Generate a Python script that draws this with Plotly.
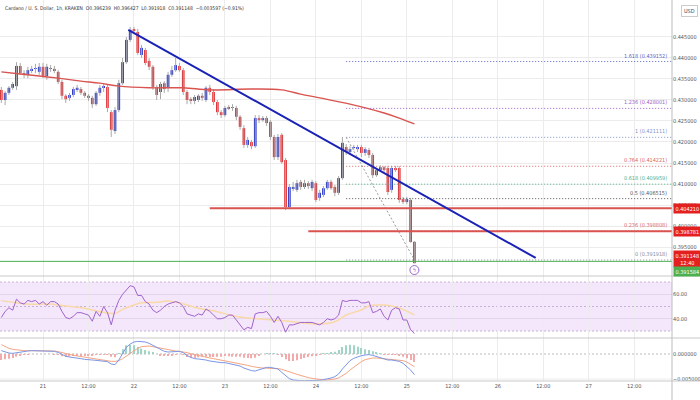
import pandas as pd
import plotly.graph_objects as go

# ---------------- data ----------------
start_time = "2022-08-20 13:00"

opens = [
 .4324, .4300, .4317, .4329, .4333, .4381, .4364, .4360, .4371, .4374,
 .4367, .4379, .4357, .4376, .4374, .4367, .4343, .4310, .4305, .4312,
 .4326, .4326, .4317, .4310, .4305, .4290, .4317, .4329, .4331, .4271,
 .4226, .4276, .4340, .4390, .4443, .4469, .4462, .4407, .4419, .4393,
 .4379, .4331, .4319, .4340, .4329, .4360, .4371, .4381, .4371, .4319,
 .4300, .4298, .4300, .4310, .4300, .4329, .4319, .4295, .4271, .4264,
 .4281, .4283, .4281, .4260, .4233, .4193, .4200, .4190, .4257, .4252,
 .4257, .4248, .4212, .4164, .4217, .4157, .4045, .4088, .4086, .4105,
 .4093, .4102, .4090, .4102, .4067, .4074, .4090, .4105, .4093, .4079,
 .4114, .4188, .4176, .4186, .4183, .4188, .4174, .4181, .4169, .4121,
 .4133, .4140, .4138, .4086, .4138, .4138, .4064, .4057, .4062, .396239]
highs = [
 .4331, .4321, .4333, .4343, .4390, .4388, .4371, .4379, .4381, .4386,
 .4388, .4388, .4386, .4383, .4381, .4371, .4348, .4314, .4317, .4331,
 .4336, .4331, .4321, .4314, .4310, .4321, .4336, .4338, .4336, .4276,
 .4283, .4348, .4400, .4450, .4474, .4474, .4469, .4431, .4424, .4400,
 .4383, .4336, .4343, .4345, .4367, .4381, .4400, .4388, .4376, .4324,
 .4307, .4312, .4314, .4317, .4333, .4336, .4326, .4300, .4276, .4286,
 .4288, .4290, .4286, .4264, .4240, .4212, .4205, .4264, .4264, .4262,
 .4262, .4252, .4217, .4219, .4221, .4162, .4100, .4105, .4110, .4110,
 .4110, .4107, .4110, .4107, .4086, .4095, .4110, .4110, .4098, .4119,
 .4212, .4195, .4190, .4193, .4193, .4193, .4188, .4186, .4174, .4138,
 .4145, .4143, .4143, .4143, .4143, .4143, .4069, .4069, .4067, .396427]
lows = [
 .4293, .4288, .4312, .4324, .4324, .4360, .4352, .4352, .4364, .4364,
 .4360, .4352, .4348, .4367, .4364, .4338, .4302, .4293, .4298, .4307,
 .4319, .4312, .4305, .4298, .4281, .4286, .4310, .4319, .4271, .4212,
 .4219, .4271, .4336, .4386, .4438, .4460, .4407, .4400, .4383, .4371,
 .4324, .4300, .4302, .4317, .4319, .4355, .4367, .4367, .4312, .4290,
 .4290, .4290, .4295, .4298, .4295, .4312, .4288, .4264, .4257, .4260,
 .4276, .4274, .4252, .4229, .4186, .4186, .4183, .4186, .4245, .4248,
 .4238, .4205, .4157, .4157, .4148, .4038, .4040, .4083, .4081, .4086,
 .4088, .4088, .4083, .4057, .4060, .4069, .4086, .4086, .4071, .4074,
 .4110, .4169, .4171, .4181, .4176, .4164, .4167, .4162, .4114, .4117,
 .4129, .4129, .4074, .4079, .4129, .4055, .4052, .4052, .3960, .391148]
closes = [
 .4300, .4317, .4329, .4338, .4381, .4364, .4360, .4371, .4374, .4376,
 .4379, .4357, .4379, .4374, .4371, .4343, .4310, .4302, .4312, .4326,
 .4329, .4317, .4310, .4305, .4290, .4317, .4329, .4331, .4281, .4229,
 .4276, .4340, .4390, .4443, .4467, .4464, .4412, .4424, .4388, .4379,
 .4331, .4312, .4338, .4326, .4360, .4371, .4383, .4371, .4319, .4300,
 .4298, .4307, .4310, .4305, .4329, .4319, .4295, .4271, .4264, .4281,
 .4280, .4281, .4260, .4236, .4193, .4205, .4190, .4257, .4252, .4257,
 .4245, .4212, .4164, .4212, .4152, .4045, .4093, .4093, .4102, .4093,
 .4102, .4095, .4105, .4062, .4079, .4090, .4105, .4090, .4079, .4114,
 .4198, .4176, .4183, .4188, .4188, .4174, .4183, .4169, .4121, .4133,
 .4140, .4133, .4081, .4138, .4133, .4062, .4057, .4064, .3962, .391148]

ma_idx = [0, 5, 10, 15, 21, 26, 31, 39, 48, 55, 66, 74, 79, 84, 92, 101, 105, 109]
ma_vals = [.4367, .4362, .4357, .4352, .4345, .4340, .4333, .4329, .4329, .4324,
           .4326, .4324, .4314, .4305, .4290, .4269, .4257, .4243]

rsi = [41, 46, 49, 47, 56, 53, 52, 55, 54, 55, 52, 54, 51, 54, 54, 52, 46, 41, 40, 42,
       45, 45, 44, 43, 38, 46, 42, 50, 45, 35, 47, 55, 60, 64, 67, 66, 59, 59, 54, 52,
       47, 45, 47, 50, 52, 53, 54, 53, 50, 44, 43, 42, 44, 43, 48, 46, 43, 40, 40, 41,
       43, 43, 39, 35, 31, 33, 32, 44, 45, 45, 46, 42, 37, 42, 37, 29, 35, 35, 36, 37,
       37, 37, 37, 36, 35, 37, 40, 39, 40, 43, 55, 54, 55, 55, 55, 53, 53, 54, 45, 46,
       48, 42, 39, 47, 49, 48, 39, 39, 31, 28]
rsi_ma_idx = [0, 4, 8, 13, 17, 22, 26, 30, 32, 35, 37, 41, 44, 48, 52, 57, 61, 66, 70, 74,
              79, 83, 88, 91, 95, 97, 101, 103, 106, 109]
rsi_ma_vals = [54.8, 53.1, 51.8, 52.1, 50.4, 48.5, 45.8, 44.4, 47.7, 51.2, 53.1, 53.4, 54.5,
               52.1, 48.5, 45.8, 42.5, 40.4, 39.5, 38.5, 36.8, 35.7, 37.6, 43.1, 47.2, 50.4,
               51.2, 50.4, 47.7, 43.1]

macd = [
 .00067, .00040, .00020, .00013, .00027, .00033, .00047, .00060, .00067, .00067,
 .00067, .00067, .00067, .00067, .00053, .00033, -.00013, -.00047, -.00060, -.00067,
 -.00080, -.00093, -.00107, -.00120, -.00120, -.00127, -.00133, -.00140, -.00153, -.00200,
 -.00213, -.00120, .00000, .00133, .00200, .00240, .00253, .00253, .00240, .00213,
 .00173, .00133, .00080, .00053, .00040, .00040, .00047, .00053, .00027, -.00033,
 -.00067, -.00093, -.00100, -.00107, -.00120, -.00140, -.00153, -.00160, -.00173, -.00173,
 -.00193, -.00213, -.00227, -.00240, -.00280, -.00307, -.00333, -.00340, -.00313, -.00280,
 -.00267, -.00267, -.00280, -.00300, -.00367, -.00433, -.00493, -.00520, -.00533, -.00533,
 -.00533, -.00533, -.00533, -.00533, -.00527, -.00513, -.00500, -.00480, -.00453, -.00400,
 -.00300, -.00213, -.00133, -.00087, -.00053, -.00033, -.00020, -.00013, -.00027, -.00053,
 -.00080, -.00100, -.00120, -.00120, -.00133, -.00147, -.00187, -.00247, -.00320, -.00413]
signal = [
 .00187, .00147, .00113, .00093, .00080, .00073, .00067, .00067, .00067, .00067,
 .00067, .00067, .00067, .00067, .00060, .00047, .00033, .00013, -.00007, -.00027,
 -.00040, -.00053, -.00067, -.00080, -.00093, -.00107, -.00120, -.00127, -.00133, -.00147,
 -.00147, -.00133, -.00093, -.00040, .00013, .00067, .00113, .00147, .00160, .00160,
 .00147, .00133, .00113, .00093, .00080, .00067, .00060, .00053, .00047, .00027,
 .00007, -.00013, -.00033, -.00053, -.00067, -.00080, -.00093, -.00107, -.00120, -.00133,
 -.00147, -.00160, -.00173, -.00187, -.00207, -.00227, -.00247, -.00267, -.00273, -.00280,
 -.00280, -.00280, -.00287, -.00293, -.00307, -.00327, -.00353, -.00380, -.00407, -.00433,
 -.00453, -.00473, -.00487, -.00500, -.00513, -.00520, -.00520, -.00513, -.00500, -.00480,
 -.00440, -.00387, -.00320, -.00260, -.00200, -.00153, -.00113, -.00093, -.00080, -.00080,
 -.00087, -.00093, -.00100, -.00107, -.00113, -.00120, -.00133, -.00160, -.00200, -.00253]

fib_levels = ["0", "0.236", "0.5", "0.618", "0.764", "1", "1.236", "1.618"]
fib_prices = [0.391918, 0.398808, 0.406515, 0.409959, 0.414221, 0.421111, 0.428001, 0.439152]
fib_colors = ["#8a8d96", "#d9675f", "#555555", "#4fb08e", "#d9675f", "#7f93c9", "#a05cc6", "#5a66c9"]
fib_start = "2022-08-24 08:00"
fib_anchor_times = ["2022-08-24 08:00", "2022-08-25 02:00"]
fib_anchor_prices = [0.421111, 0.391918]

trend_times = ["2022-08-21 22:30", "2022-08-26 10:00"]
trend_prices = [0.4467, 0.3924]

hline_prices = [0.404210, 0.398781]
hline_starts = ["2022-08-22 20:00", "2022-08-23 22:00"]
support_price = 0.391584
last_price = 0.391148

price_ticks = [0.395, 0.400, 0.405, 0.410, 0.415, 0.420, 0.425, 0.430, 0.435, 0.440, 0.445]
price_tick_text = ["%.6f" % v for v in price_ticks]
time_ticks = ["2022-08-21 00:00", "2022-08-21 12:00", "2022-08-22 00:00", "2022-08-22 12:00",
              "2022-08-23 00:00", "2022-08-23 12:00", "2022-08-24 00:00", "2022-08-24 12:00",
              "2022-08-25 00:00", "2022-08-25 12:00", "2022-08-26 00:00", "2022-08-26 12:00",
              "2022-08-27 00:00", "2022-08-27 12:00"]
time_tick_text = ["21", "12:00", "22", "12:00", "23", "12:00", "24", "12:00",
                  "25", "12:00", "26", "12:00", "27", "12:00"]

header = ("Cardano / U. S. Dollar, 1h, KRAKEN  O0.396239  H0.396427  L0.391918  "
          "C0.391148  \u22120.003597 (\u22120.91%)")

# ---------------- figure ----------------
FONT = "Liberation Sans Narrow, DejaVu Sans Condensed, Liberation Sans, sans-serif"
UP, DOWN = "#1f2fc4", "#e0262a"
times = pd.date_range(start_time, periods=len(closes), freq="h")
x_range = ["2022-08-20 12:39", "2022-08-27 21:58"]
HOUR = 3600000

fig = go.Figure()

# wicks
wx, wy = [], []
for t, h, l in zip(times, highs, lows):
    wx += [t, t, None]
    wy += [h, l, None]
fig.add_trace(go.Scatter(x=wx, y=wy, mode="lines", line=dict(color="#a9a9a9", width=1),
                         hoverinfo="skip", xaxis="x", yaxis="y"))
# bodies
body_base = [min(o, c) for o, c in zip(opens, closes)]
body_h = [max(abs(c - o), 0.00006) for o, c in zip(opens, closes)]
body_col = [UP if c >= o else DOWN for o, c in zip(opens, closes)]
fig.add_trace(go.Bar(x=times, y=body_h, base=body_base, width=0.7 * HOUR,
                     marker=dict(color=body_col, line=dict(width=0)), xaxis="x", yaxis="y"))

# moving average
fig.add_trace(go.Scatter(x=[times[i] for i in ma_idx], y=ma_vals, mode="lines",
                         line=dict(color="#d9534f", width=1.4, shape="spline"),
                         xaxis="x", yaxis="y"))
# fib lines
for lv, p, col in zip(fib_levels, fib_prices, fib_colors):
    fig.add_trace(go.Scatter(x=[fib_start, x_range[1]], y=[p, p], mode="lines",
                             line=dict(color=col, width=1, dash="1px,2px"), xaxis="x", yaxis="y"))
fig.add_trace(go.Scatter(x=fib_anchor_times, y=fib_anchor_prices, mode="lines",
                         line=dict(color="#9a9a9a", width=1, dash="2px,2px"), xaxis="x", yaxis="y"))
# horizontal red levels
for p, s in zip(hline_prices, hline_starts):
    fig.add_trace(go.Scatter(x=[s, x_range[1]], y=[p, p], mode="lines",
                             line=dict(color="#d9534f", width=2), xaxis="x", yaxis="y"))
# support line
fig.add_trace(go.Scatter(x=x_range, y=[support_price, support_price], mode="lines",
                         line=dict(color="#4caf50", width=1), xaxis="x", yaxis="y"))
# trend line
fig.add_trace(go.Scatter(x=trend_times, y=trend_prices, mode="lines",
                         line=dict(color="#1a22b5", width=2), xaxis="x", yaxis="y"))

# RSI
fig.add_trace(go.Scatter(x=[times[i] for i in rsi_ma_idx], y=rsi_ma_vals, mode="lines",
                         line=dict(color="#f8d9a8", width=1.5, shape="spline"),
                         xaxis="x2", yaxis="y2"))
fig.add_trace(go.Scatter(x=times, y=rsi, mode="lines", line=dict(color="#a064cc", width=1),
                         xaxis="x2", yaxis="y2"))

# MACD
hist = [m - s for m, s in zip(macd, signal)]
hist_col = ["#9fd4c6" if h >= 0 else "#f3aaaa" for h in hist]
fig.add_trace(go.Bar(x=times, y=hist, width=0.3 * HOUR, marker=dict(color=hist_col, line=dict(width=0)),
                     xaxis="x3", yaxis="y3"))
fig.add_trace(go.Scatter(x=times, y=signal, mode="lines", line=dict(color="#f4a584", width=1),
                         xaxis="x3", yaxis="y3"))
fig.add_trace(go.Scatter(x=times, y=macd, mode="lines", line=dict(color="#7b96e6", width=1),
                         xaxis="x3", yaxis="y3"))

# event marker
fig.add_trace(go.Scatter(x=[times[-1]], y=[0.38952], mode="markers+text", text=["\u03df"],
                         textfont=dict(size=6, color="#a064cc"), textposition="middle center",
                         marker=dict(symbol="circle-open", size=9, color="#a064cc", line=dict(width=1)),
                         xaxis="x", yaxis="y"))

XD = [0, 672 / 700]
def py(px):
    return 1 - px / 400

grid = "#ececec"
tickfont = dict(family=FONT, size=5.5, color="#555555")
xcommon = dict(type="date", range=x_range, tickvals=time_ticks, ticktext=time_tick_text,
               showgrid=True, gridcolor=grid, gridwidth=1, zeroline=False, domain=XD,
               ticks="", fixedrange=True, automargin=False)
fig.update_layout(
    width=700, height=400, margin=dict(l=0, r=0, t=0, b=0, pad=0, autoexpand=False),
    paper_bgcolor="white", plot_bgcolor="white", showlegend=False, barmode="overlay",
    font=dict(family=FONT, size=5.5, color="#444"),
    xaxis=dict(**xcommon, anchor="y", showticklabels=False),
    xaxis2=dict(**xcommon, anchor="y2", showticklabels=False, matches="x"),
    xaxis3=dict(**xcommon, anchor="y3", showticklabels=True, tickfont=tickfont, matches="x"),
    yaxis=dict(domain=[py(276), 1], range=[0.3881, 0.4538], side="right", tickvals=price_ticks,
               ticktext=price_tick_text, tickfont=tickfont, showgrid=True, gridcolor=grid,
               zeroline=False, ticks="", anchor="x", automargin=False),
    yaxis2=dict(domain=[py(338), py(276)], range=[24.3, 74.9], side="right", tickvals=[40, 60],
                ticktext=["40.00", "60.00"], tickfont=tickfont, showgrid=True, gridcolor="#e3d6ec",
                zeroline=False, ticks="", anchor="x2", automargin=False),
    yaxis3=dict(domain=[py(381), py(338)], range=[-0.0054, 0.0032], side="right",
                tickvals=[0, -0.005], ticktext=["0.000000", "\u22120.005000"], tickfont=tickfont,
                showgrid=False, zeroline=False, ticks="", anchor="x3", automargin=False),
)

shapes = [
    dict(type="rect", xref="x2 domain", yref="y2", x0=0, x1=1, y0=30, y1=70,
         fillcolor="#f4e6fb", line=dict(width=0), layer="below"),
]
for v in (70, 50, 30):
    shapes.append(dict(type="line", xref="x2 domain", yref="y2", x0=0, x1=1, y0=v, y1=v,
                       line=dict(color="#c8b2d6", width=1, dash="2px,2px"), layer="below"))
shapes.append(dict(type="line", xref="x3 domain", yref="y3", x0=0, x1=1, y0=0, y1=0,
                   line=dict(color="#bbbbbb", width=1, dash="2px,2px"), layer="below"))
shapes.append(dict(type="line", xref="x3 domain", yref="y3", x0=0, x1=1, y0=-0.005, y1=-0.005,
                   line=dict(color=grid, width=1), layer="below"))
for yy in (276, 338, 381):
    shapes.append(dict(type="line", xref="paper", yref="paper", x0=0, x1=1, y0=py(yy), y1=py(yy),
                       line=dict(color="#c9c9c9", width=1)))
shapes.append(dict(type="line", xref="paper", yref="paper", x0=XD[1], x1=XD[1], y0=0, y1=1,
                   line=dict(color="#bdbdbd", width=1)))
fig.update_layout(shapes=shapes)

ann = [dict(text=header, xref="paper", yref="paper", x=0.004, y=py(8), xanchor="left",
            yanchor="middle", showarrow=False, font=dict(family=FONT, size=5, color="#333"))]
ann.append(dict(text="USD", xref="paper", yref="paper", x=0.985, y=py(11), xanchor="center",
                yanchor="middle", showarrow=False, bordercolor="#cccccc", borderwidth=1, borderpad=2,
                bgcolor="white", font=dict(family=FONT, size=5.5, color="#444")))
for lv, p, col in zip(fib_levels, fib_prices, fib_colors):
    ann.append(dict(text="%s (%.6f)" % (lv, p), xref="x", yref="y", x=x_range[1], y=p,
                    xanchor="right", yanchor="bottom", xshift=-3, yshift=1, showarrow=False,
                    font=dict(family=FONT, size=5.5, color=col)))
box = dict(xref="paper", yref="y", x=XD[1] + 0.001, xanchor="left", yanchor="middle",
           showarrow=False, borderpad=1.5, font=dict(family=FONT, size=5.5, color="white"))
for p in hline_prices:
    ann.append(dict(box, text="%.6f" % p, y=p, bgcolor="#e41f1f"))
ann.append(dict(box, text="%.6f<br>12:40" % last_price, y=last_price, yshift=4, bgcolor="#e41f1f"))
ann.append(dict(box, text="%.6f" % support_price, y=support_price, yshift=-10, bgcolor="#4caf50"))
fig.update_layout(annotations=ann)

fig.write_html("out.html", config={"displayModeBar": False},
               post_script="document.body.style.margin='0';document.body.style.padding='0';")
